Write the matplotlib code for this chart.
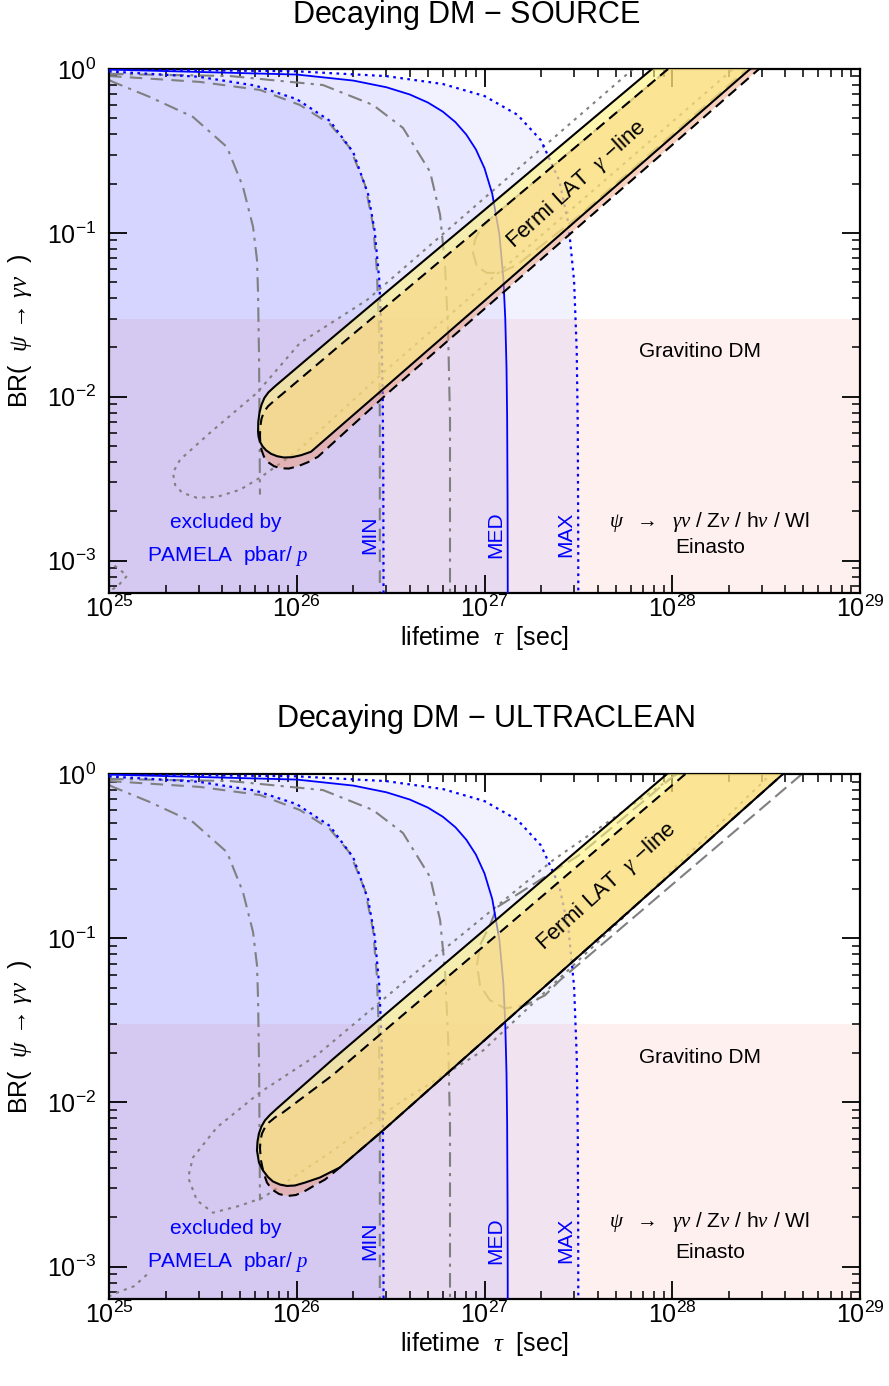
import matplotlib
matplotlib.use("Agg")
import matplotlib.pyplot as plt

plt.rcParams['font.family'] = ['Liberation Sans', 'DejaVu Sans']
plt.rcParams['mathtext.fontset'] = 'custom'
plt.rcParams['mathtext.rm'] = 'Liberation Sans'
plt.rcParams['mathtext.sf'] = 'Liberation Sans'
plt.rcParams['mathtext.it'] = 'Liberation Serif:italic'

# ---- PAMELA pbar/p bounds (same in both panels) ----
tau_min = [1e25, 3e25, 6e25, 1e26, 1.5e26, 2e26, 2.4e26, 2.6e26, 2.75e26, 2.83e26, 2.87e26, 2.89e26, 2.9e26]
br_min = [0.966, 0.897, 0.793, 0.655, 0.483, 0.31, 0.172, 0.103, 0.052, 0.024, 0.0103, 0.0034, 0.0006]
tau_med = [1e25, 1e26, 2e26, 3e26, 4e26, 5e26, 6e26, 7e26, 8e26, 9e26, 1.0e27, 1.1e27, 1.2e27,
           1.26e27, 1.29e27, 1.31e27, 1.32e27, 1.327e27, 1.33e27]
br_med = [0.992, 0.925, 0.85, 0.774, 0.699, 0.624, 0.549, 0.474, 0.398, 0.323, 0.248, 0.173, 0.098,
          0.053, 0.030, 0.015, 0.0075, 0.0023, 0.0006]
tau_max = [1e25, 1e26, 3e26, 6e26, 1e27, 1.5e27, 2e27, 2.5e27, 2.8e27, 3.0e27, 3.1e27, 3.14e27, 3.155e27, 3.16e27]
br_max = [0.997, 0.968, 0.905, 0.81, 0.684, 0.525, 0.367, 0.209, 0.114, 0.051, 0.019, 0.0063, 0.0016, 0.0006]

# gray comparison curves
tau_g1 = [1e25, 1.05e25, 1.65e25, 2.80e25, 4.25e25, 5.17e25, 5.85e25, 6.14e25, 6.22e25, 6.30e25, 6.37e25]
br_g1 = [0.857, 0.834, 0.675, 0.510, 0.334, 0.191, 0.109, 0.0685, 0.0431, 0.0168, 0.00253]
tau_g2 = [1e25, 3.05e25, 6.37e25, 1.04e26, 1.50e26, 1.92e26, 2.31e26, 2.55e26, 2.67e26, 2.74e26, 2.77e26, 2.77e26]
br_g2 = [0.906, 0.834, 0.745, 0.603, 0.462, 0.330, 0.196, 0.112, 0.0595, 0.0256, 0.00724, 0.0006]
tau_g3 = [1e25, 4.41e25, 1.38e26, 2.55e26, 3.68e26, 5.13e26, 5.80e26, 6.16e26, 6.40e26, 6.55e26, 6.55e26]
br_g3 = [0.933, 0.906, 0.798, 0.603, 0.437, 0.236, 0.129, 0.0638, 0.0249, 0.00724, 0.0006]

# ---- SOURCE panel: Fermi LAT line contours ----
src_tau_a = [7.80e27, 3.16e27, 1e27, 3.16e26, 1.585e26, 7.66e25, 7.07e25, 6.73e25, 6.49e25, 6.33e25, 6.24e25,
             6.22e25, 6.26e25, 6.37e25, 6.57e25, 6.86e25, 7.29e25, 7.85e25, 8.55e25, 9.43e25, 1.054e26,
             1.191e26, 3.16e26, 1e27, 3.16e27, 1e28, 2.6e28]
src_br_a = [1.0, 0.419, 0.138, 0.0457, 0.0235, 0.01159, 0.01065, 0.00986, 0.00894, 0.00799, 0.00704,
            0.00612, 0.00570, 0.00532, 0.00499, 0.00472, 0.00449, 0.00434, 0.00426, 0.00428, 0.00440,
            0.00462, 0.0122, 0.0385, 0.122, 0.385, 1.0]
src_tau_b = [9.5e27, 3.16e27, 1e27, 3.16e26, 1.585e26, 8.35e25, 7.57e25, 7.03e25, 6.69e25, 6.49e25, 6.39e25,
             6.37e25, 6.40e25, 6.51e25, 6.69e25, 7.03e25, 7.57e25, 8.24e25, 9.09e25, 1.016e26, 1.148e26,
             1.298e26, 3.16e26, 1e27, 3.16e27, 1e28, 2.9e28]
src_br_b = [1.0, 0.345, 0.1138, 0.0375, 0.0193, 0.01036, 0.00945, 0.00875, 0.00810, 0.00734, 0.00656,
            0.00578, 0.00517, 0.00469, 0.00431, 0.00399, 0.00377, 0.00366, 0.00365, 0.00377, 0.00399,
            0.00431, 0.01089, 0.0344, 0.1089, 0.344, 1.0]
src_tau_dot = [6.18e27, 2.37e26, 1.04e26, 6.14e25, 3.45e25, 2.39e25, 2.19e25, 2.25e25, 2.45e25, 2.94e25,
               3.76e25, 4.99e25, 6.37e25, 1.00e26, 2.88e26, 2.11e28]
src_br_dot = [1.0, 0.0390, 0.0213, 0.01057, 0.00603, 0.00413, 0.00344, 0.00290, 0.00260, 0.00242,
              0.00245, 0.00271, 0.00321, 0.00462, 0.0140, 1.0]
src_tau_dash = [9.55e27, 3.16e27, 1.069e27, 9.46e26, 8.89e26, 8.69e26, 9.12e26, 1.03e27, 1.21e27, 1.49e27, 3.16e27, 2.51e28]
src_br_dash = [1.0, 0.345, 0.121, 0.104, 0.0906, 0.0755, 0.0621, 0.0570, 0.0570, 0.0638, 0.126, 1.0]
src_tau_corner = [1.07e25, 1.25e25, 1.12e25, 1.026e25, 1e25]
src_br_corner = [9.33e-4, 8.1e-4, 7.05e-4, 6.6e-4, 6.38e-4]

# ---- ULTRACLEAN panel ----
uc_tau_a = [9.38e27, 3.16e27, 1e27, 3.16e26, 1.56e26, 7.85e25, 7.20e25, 6.77e25, 6.49e25, 6.29e25, 6.18e25,
            6.14e25, 6.29e25, 6.61e25, 7.03e25, 7.47e25, 8.14e25, 8.87e25, 9.79e25, 1.107e26, 1.330e26,
            1.70e26, 2.88e26, 1e27, 3.16e27, 1e28, 3.89e28]
uc_br_a = [1.0, 0.346, 0.1125, 0.0366, 0.01836, 0.00919, 0.00839, 0.00777, 0.00714, 0.00647, 0.00578,
           0.00510, 0.00431, 0.00385, 0.00351, 0.00330, 0.00316, 0.00310, 0.00312, 0.00325, 0.00349,
           0.00402, 0.00675, 0.0239, 0.0773, 0.250, 1.0]
uc_tau_b = [1.175e28, 3.16e27, 1e27, 3.16e26, 1.56e26, 8.45e25, 7.66e25, 7.11e25, 6.77e25, 6.53e25, 6.41e25,
            6.37e25, 6.45e25, 6.65e25, 6.94e25, 7.38e25, 8.04e25, 8.87e25, 9.91e25, 1.120e26, 1.266e26,
            1.414e26, 1.70e26, 2.88e26, 1e27, 3.16e27, 1e28, 3.89e28]
uc_br_b = [1.0, 0.278, 0.0903, 0.0294, 0.01472, 0.00869, 0.00810, 0.00755, 0.00704, 0.00647, 0.00587,
           0.00524, 0.00443, 0.00374, 0.00325, 0.00295, 0.00277, 0.00269, 0.00273, 0.00291, 0.00316,
           0.00339, 0.00402, 0.00675, 0.0239, 0.0773, 0.250, 1.0]
uc_tau_dot = [1.06e28, 2.32e27, 3.55e26, 1.28e26, 6.37e25, 3.76e25, 2.80e25, 2.64e25, 2.94e25, 3.58e25,
              4.99e25, 6.61e25, 1.56e26, 3.55e26, 9.82e26, 4.12e27, 3.36e28]
uc_br_dot = [1.0, 0.299, 0.0517, 0.0194, 0.0115, 0.00705, 0.00462, 0.00349, 0.00253, 0.00213,
             0.00235, 0.00263, 0.00509, 0.0100, 0.0207, 0.0973, 1.0]
uc_tau_dash = [1.047e28, 3.16e27, 1.167e27, 1.069e27, 9.46e26, 9.12e26, 9.46e26, 1.069e27, 1.285e27,
               1.644e27, 2.10e27, 2.52e27, 4.91e28]
uc_br_dash = [1.0, 0.318, 0.1545, 0.120, 0.0906, 0.0685, 0.0517, 0.0419, 0.0374, 0.0390, 0.0449, 0.0554, 1.0]
uc_tau_corner = [1.59e25, 1.36e25, 1.05e25, 1e25]
uc_br_corner = [8.93e-4, 7.6e-4, 6.79e-4, 6.56e-4]

gravitino_br = 0.03
xlim = (1e25, 1e29)
ylim = (6.35e-4, 1.0)

BLUE = '#0000ff'
GRAY = '#808080'


def panel(ax, title_x, title_y, title, tau_a, br_a, tau_b, br_b, tau_dot, br_dot,
          tau_dash, br_dash, tau_corner, br_corner, fermi_pos, info_y):
    ax.set_xscale('log')
    ax.set_yscale('log')
    ax.set_xlim(*xlim)
    ax.set_ylim(*ylim)

    # gravitino region and PAMELA excluded regions
    ax.fill_between(xlim, ylim[0], gravitino_br, color='#ff0000', alpha=0.06, lw=0, zorder=0)
    for t, b, a in [(tau_max, br_max, 0.05), (tau_med, br_med, 0.045), (tau_min, br_min, 0.075)]:
        ax.fill_between(t, ylim[0] * 0.5, b, color=BLUE, alpha=a, lw=0, zorder=1)

    # gray comparison curves
    ax.plot(tau_g1, br_g1, color=GRAY, lw=1.5, ls=(0, (7, 3, 1.5, 3)), zorder=2)
    ax.plot(tau_g2, br_g2, color=GRAY, lw=1.5, ls=(0, (6, 4)), zorder=2)
    ax.plot(tau_g3, br_g3, color=GRAY, lw=1.5, ls=(0, (7, 3, 1.5, 3)), zorder=2)
    ax.plot(tau_dot, br_dot, color=GRAY, lw=1.5, ls=(0, (1.5, 2.5)), zorder=2)
    ax.plot(tau_dash, br_dash, color=GRAY, lw=1.5, ls=(0, (7, 3)), zorder=2)
    ax.plot(tau_corner, br_corner, color=GRAY, lw=1.5, ls=(0, (1.5, 2.5)), zorder=2)

    # blue PAMELA lines
    ax.plot(tau_min, br_min, color=BLUE, lw=1.6, ls=(0, (1.2, 2)), zorder=3)
    ax.plot(tau_med, br_med, color=BLUE, lw=1.3, zorder=3)
    ax.plot(tau_max, br_max, color=BLUE, lw=1.6, ls=(0, (1.2, 2)), zorder=3)

    # Fermi LAT gamma-line regions
    ax.fill(tau_b, br_b, color='#f09a70', alpha=0.45, lw=0, zorder=4)
    ax.fill(tau_a, br_a, color='#fff27a', alpha=0.6, lw=0, zorder=4)
    ax.plot(tau_b, br_b, color='black', lw=1.5, ls=(0, (5, 3)), zorder=5)
    ax.plot(tau_a, br_a, color='black', lw=1.5, zorder=5)

    ax.tick_params(which='both', direction='in', top=True, right=True, labelsize=18)
    ax.tick_params(axis='x', which='both', pad=2)
    ax.tick_params(axis='y', which='both', pad=9)
    ax.tick_params(which='major', length=13, width=1.3)
    ax.tick_params(which='minor', length=6, width=1.1)
    for s in ax.spines.values():
        s.set_linewidth(1.6)

    tr = ax.transAxes
    ax.text(fermi_pos[0], fermi_pos[1], r'Fermi LAT  $\gamma$ $-$line', transform=tr, rotation=42,
            ha='center', va='center', fontsize=16, zorder=6)
    ax.text(0.787, 0.46, 'Gravitino DM', transform=tr, ha='center', va='center', fontsize=15)
    ax.text(0.80, info_y[0], r'$\psi$  $\rightarrow$  $\gamma\nu$ / Z$\nu$ / h$\nu$ / Wl', transform=tr,
            ha='center', va='center', fontsize=15)
    ax.text(0.80, info_y[1], 'Einasto', transform=tr, ha='center', va='center', fontsize=15)
    ax.text(0.156, 0.134, 'excluded by', transform=tr, ha='center', va='center', fontsize=15, color=BLUE)
    ax.text(0.158, 0.071, 'PAMELA  pbar/ $p$', transform=tr, ha='center', va='center', fontsize=15, color=BLUE)
    for fx, lab in [(0.3475, 'MIN'), (0.515, 'MED'), (0.6085, 'MAX')]:
        ax.text(fx, 0.111, lab, transform=tr, rotation=90, ha='center', va='center', fontsize=15, color=BLUE)

    ax.text(0.5, -0.085, r'lifetime  $\tau$  [sec]', transform=tr, ha='center', va='center', fontsize=18)
    ax.text(-0.118, 0.5, r'BR(  $\psi\,\rightarrow\,\gamma\nu$  )', transform=tr, rotation=90,
            ha='center', va='center', fontsize=18)
    ax.figure.text(title_x, title_y, title, ha='center', va='center', fontsize=22)


fig = plt.figure(figsize=(8.89, 13.86), dpi=100)
ax1 = fig.add_axes([0.12261, 0.57215, 0.84477, 0.37807])
ax2 = fig.add_axes([0.12261, 0.06277, 0.84477, 0.37879])

panel(ax1, 467 / 889, 1 - 15 / 1386, 'Decaying DM $-$ SOURCE', src_tau_a, src_br_a, src_tau_b, src_br_b,
      src_tau_dot, src_br_dot, src_tau_dash, src_br_dash, src_tau_corner, src_br_corner,
      (0.623, 0.78), (0.1355, 0.086))
panel(ax2, 485 / 889, 1 - 719 / 1386, 'Decaying DM $-$ ULTRACLEAN', uc_tau_a, uc_br_a, uc_tau_b, uc_br_b,
      uc_tau_dot, uc_br_dot, uc_tau_dash, uc_br_dash, uc_tau_corner, uc_br_corner,
      (0.662, 0.785), (0.147, 0.0895))

fig.savefig('out.png', dpi=100)
